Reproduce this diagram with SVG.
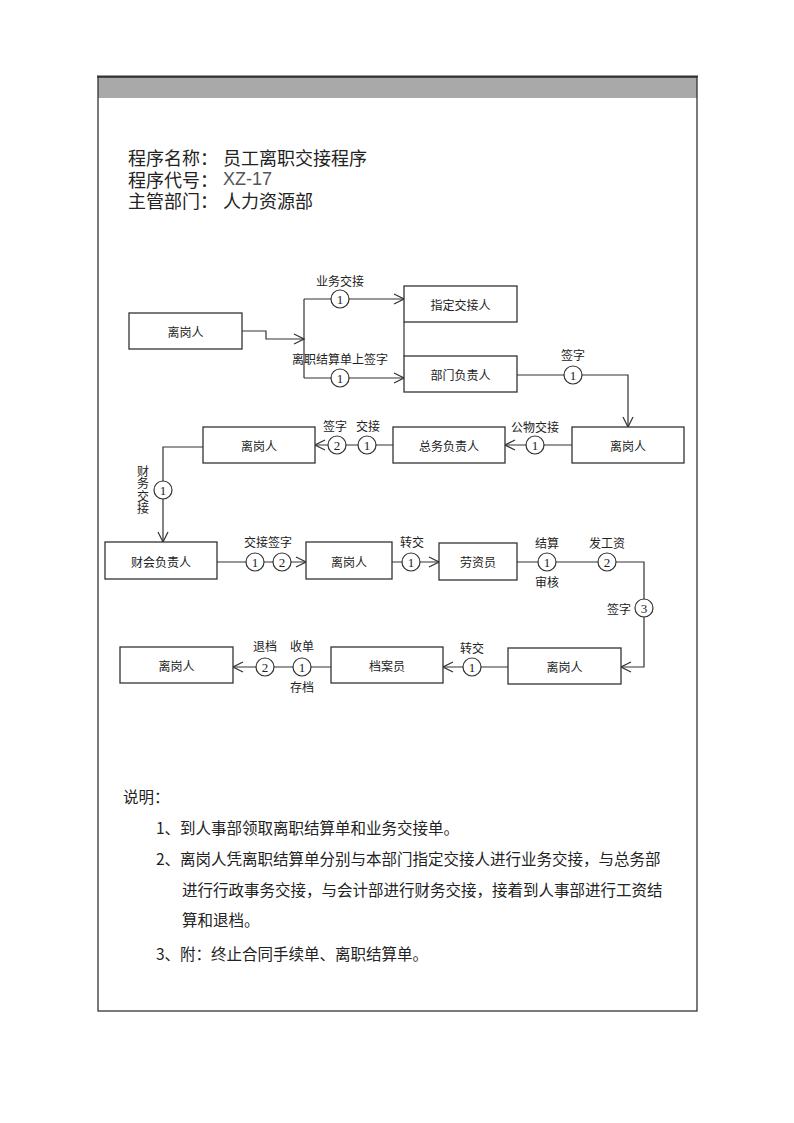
<svg xmlns="http://www.w3.org/2000/svg" width="794" height="1123" viewBox="0 0 794 1123">
<defs>
<style>
.box{fill:#fff;stroke:#333;stroke-width:1.3}
.bt{font-family:"Noto Sans CJK SC","Noto Sans",sans-serif;font-size:12px;fill:#222;text-anchor:middle;dominant-baseline:central}
.lb{font-family:"Noto Sans CJK SC","Noto Sans",sans-serif;font-size:12px;fill:#222;text-anchor:middle;dominant-baseline:central}
.ln{fill:none;stroke:#333;stroke-width:1.2}
.cc{fill:#fff;stroke:#333;stroke-width:1.2}
.cn{font-family:"Liberation Serif",serif;font-size:13px;fill:#222;text-anchor:middle;dominant-baseline:central}
.tt{font-family:"Noto Sans CJK SC","Noto Sans",sans-serif;font-size:18px;fill:#222;dominant-baseline:central}
.nt{font-family:"Noto Sans CJK SC","Noto Sans",sans-serif;font-size:15.5px;fill:#222;dominant-baseline:central}
</style>
<marker id="arr" viewBox="0 0 12 12" refX="11" refY="6" markerWidth="12" markerHeight="12" markerUnits="userSpaceOnUse" orient="auto">
<polyline points="1,1 11,6 1,11" fill="none" stroke="#333" stroke-width="1.2"/>
</marker>
</defs>
<rect width="794" height="1123" fill="#fff"/>
<g id="frame">
<rect x="98" y="77" width="599" height="21" fill="#a9a9a9"/>
<rect x="98" y="77" width="599" height="934" fill="none" stroke="#333" stroke-width="1.3"/>
<line x1="97" y1="76.5" x2="698" y2="76.5" stroke="#333" stroke-width="2"/>
</g>
<g id="title">
<text class="tt" x="128" y="157">程序名称：</text>
<text class="tt" x="223" y="157">员工离职交接程序</text>
<text class="tt" x="128" y="179">程序代号：</text>
<text x="223" y="179" font-family="Liberation Sans, sans-serif" font-size="18" fill="#555" dominant-baseline="central">XZ-17</text>
<text class="tt" x="128" y="200">主管部门：</text>
<text class="tt" x="223" y="200">人力资源部</text>
</g>
<g id="connectors">
<polyline class="ln" points="242,331 266,331 266,339 304,339" marker-end="url(#arr)"/>
<line class="ln" x1="304" y1="299" x2="304" y2="378"/>
<line class="ln" x1="304" y1="299" x2="404" y2="299" marker-end="url(#arr)"/>
<line class="ln" x1="304" y1="378" x2="404" y2="378" marker-end="url(#arr)"/>
<line class="ln" x1="404" y1="322" x2="404" y2="356"/>
<polyline class="ln" points="517,375 628,375 628,427" marker-end="url(#arr)"/>
<line class="ln" x1="572" y1="445" x2="505" y2="445" marker-end="url(#arr)"/>
<line class="ln" x1="393" y1="445" x2="315" y2="445" marker-end="url(#arr)"/>
<polyline class="ln" points="203,447 163,447 163,542" marker-end="url(#arr)"/>
<line class="ln" x1="217" y1="562" x2="306" y2="562" marker-end="url(#arr)"/>
<line class="ln" x1="392" y1="562" x2="439" y2="562" marker-end="url(#arr)"/>
<polyline class="ln" points="517,562 644,562 644,667 621,667" marker-end="url(#arr)"/>
<line class="ln" x1="508" y1="667" x2="443" y2="667" marker-end="url(#arr)"/>
<line class="ln" x1="331" y1="667" x2="233" y2="667" marker-end="url(#arr)"/>
<circle class="cc" cx="340" cy="299" r="9"/><text class="cn" x="340" y="299">1</text>
<circle class="cc" cx="340" cy="378" r="9"/><text class="cn" x="340" y="378">1</text>
<circle class="cc" cx="573" cy="375" r="9"/><text class="cn" x="573" y="375">1</text>
<circle class="cc" cx="535" cy="445" r="9"/><text class="cn" x="535" y="445">1</text>
<circle class="cc" cx="367" cy="445" r="9"/><text class="cn" x="367" y="445">1</text>
<circle class="cc" cx="337" cy="445" r="9"/><text class="cn" x="337" y="445">2</text>
<circle class="cc" cx="163" cy="490" r="9"/><text class="cn" x="163" y="490">1</text>
<circle class="cc" cx="255" cy="562" r="9"/><text class="cn" x="255" y="562">1</text>
<circle class="cc" cx="282" cy="562" r="9"/><text class="cn" x="282" y="562">2</text>
<circle class="cc" cx="411" cy="562" r="9"/><text class="cn" x="411" y="562">1</text>
<circle class="cc" cx="547" cy="562" r="9"/><text class="cn" x="547" y="562">1</text>
<circle class="cc" cx="607" cy="562" r="9"/><text class="cn" x="607" y="562">2</text>
<circle class="cc" cx="644" cy="608" r="9"/><text class="cn" x="644" y="608">3</text>
<circle class="cc" cx="472" cy="667" r="9"/><text class="cn" x="472" y="667">1</text>
<circle class="cc" cx="302" cy="667" r="9"/><text class="cn" x="302" y="667">1</text>
<circle class="cc" cx="265" cy="667" r="9"/><text class="cn" x="265" y="667">2</text>
<text class="lb" x="340" y="280">业务交接</text>
<text class="lb" x="340" y="358">离职结算单上签字</text>
<text class="lb" x="573" y="354">签字</text>
<text class="lb" x="535" y="426">公物交接</text>
<text class="lb" x="335" y="425">签字</text>
<text class="lb" x="368" y="425">交接</text>
<text x="143" y="465" font-family="Noto Sans CJK SC, sans-serif" font-size="12" fill="#222" style="writing-mode:vertical-rl" letter-spacing="0.5">财务交接</text>
<text class="lb" x="268" y="541">交接签字</text>
<text class="lb" x="412" y="541">转交</text>
<text class="lb" x="547" y="542">结算</text>
<text class="lb" x="547" y="581">审核</text>
<text class="lb" x="607" y="542">发工资</text>
<text class="lb" x="619" y="608">签字</text>
<text class="lb" x="472" y="647">转交</text>
<text class="lb" x="265" y="645">退档</text>
<text class="lb" x="302" y="645">收单</text>
<text class="lb" x="302" y="686">存档</text>
</g>
<g id="n1"><rect class="box" x="129" y="313" width="113" height="36"/><text class="bt" x="185.5" y="331">离岗人</text></g>
<g id="n2"><rect class="box" x="404" y="286" width="113" height="36"/><text class="bt" x="460.5" y="304">指定交接人</text></g>
<g id="n3"><rect class="box" x="404" y="356" width="113" height="36"/><text class="bt" x="460.5" y="374">部门负责人</text></g>
<g id="n4"><rect class="box" x="572" y="427" width="112" height="36"/><text class="bt" x="628" y="445">离岗人</text></g>
<g id="n5"><rect class="box" x="393" y="427" width="112" height="36"/><text class="bt" x="449" y="445">总务负责人</text></g>
<g id="n6"><rect class="box" x="203" y="427" width="112" height="36"/><text class="bt" x="259" y="445">离岗人</text></g>
<g id="n7"><rect class="box" x="105" y="542" width="112" height="37"/><text class="bt" x="161" y="561">财会负责人</text></g>
<g id="n8"><rect class="box" x="306" y="542" width="86" height="37"/><text class="bt" x="349" y="561">离岗人</text></g>
<g id="n9"><rect class="box" x="439" y="543" width="78" height="37"/><text class="bt" x="478" y="561">劳资员</text></g>
<g id="n10"><rect class="box" x="508" y="648" width="113" height="36"/><text class="bt" x="564.5" y="666">离岗人</text></g>
<g id="n11"><rect class="box" x="331" y="647" width="112" height="36"/><text class="bt" x="387" y="665">档案员</text></g>
<g id="n12"><rect class="box" x="120" y="647" width="113" height="36"/><text class="bt" x="176.5" y="665">离岗人</text></g>
<g id="notes">
<text class="nt" x="123" y="796">说明：</text>
<text class="nt" x="156" y="827">1、到人事部领取离职结算单和业务交接单。</text>
<text class="nt" x="156" y="858">2、离岗人凭离职结算单分别与本部门指定交接人进行业务交接，与总务部</text>
<text class="nt" x="182" y="889">进行行政事务交接，与会计部进行财务交接，接着到人事部进行工资结</text>
<text class="nt" x="182" y="919">算和退档。</text>
<text class="nt" x="156" y="953">3、附：终止合同手续单、离职结算单。</text>
</g>
</svg>
